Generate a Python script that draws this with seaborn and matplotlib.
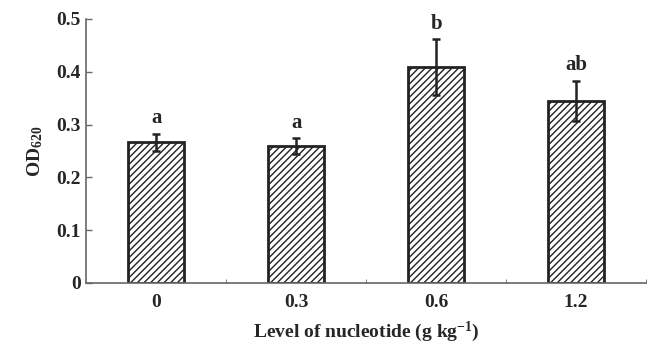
import pandas as pd
import matplotlib
matplotlib.use('Agg')
import matplotlib.pyplot as plt
import seaborn as sns
from matplotlib.ticker import FixedLocator

# Data
levels = ['0', '0.3', '0.6', '1.2']
od620 = [0.266, 0.259, 0.408, 0.345]
od_err = [0.016, 0.015, 0.053, 0.038]
groups = ['a', 'a', 'b', 'ab']

df = pd.DataFrame({'level': levels, 'od': od620})

sns.set_style('ticks')
plt.rcParams['font.family'] = ['Liberation Serif', 'DejaVu Serif']
plt.rcParams['font.weight'] = 'bold'
plt.rcParams['mathtext.fontset'] = 'custom'
plt.rcParams['mathtext.rm'] = 'Liberation Serif:bold'
plt.rcParams['mathtext.bf'] = 'Liberation Serif:bold'
plt.rcParams['mathtext.default'] = 'rm'
plt.rcParams['hatch.linewidth'] = 1.0

fig = plt.figure(figsize=(6.52, 3.43), dpi=100)
ax = fig.add_axes([0.132, 0.175, 0.859, 0.77])

sns.barplot(data=df, x='level', y='od', order=levels, color='white',
            width=0.4, edgecolor='#222222', linewidth=2, ax=ax)
for bar in ax.patches:
    bar.set_hatch('/////')

ax.errorbar(range(len(levels)), od620, yerr=od_err, fmt='none',
            ecolor='#222222', elinewidth=1.8, capsize=2.8, capthick=1.8)

# significance letters above the error bars
for i, (v, e, g) in enumerate(zip(od620, od_err, groups)):
    ax.annotate(g, (i, v + e), xytext=(0, 4), textcoords='offset points',
                ha='center', va='bottom', fontsize=15, fontweight='bold')

ax.set_xlim(-0.5, 3.5)
ax.set_ylim(0, 0.5)
ax.set_yticks([0, 0.1, 0.2, 0.3, 0.4, 0.5])
ax.set_yticklabels(['0', '0.1', '0.2', '0.3', '0.4', '0.5'])
ax.xaxis.set_minor_locator(FixedLocator([0.5, 1.5, 2.5, 3.5]))
ax.tick_params(axis='x', which='major', length=0, labelsize=14, pad=8)
ax.tick_params(axis='x', which='minor', direction='in', length=3, color='#666666')
ax.tick_params(axis='y', direction='in', length=4, color='#666666', labelsize=14,
               width=1, pad=4)

for s in ['top', 'right']:
    ax.spines[s].set_visible(False)
for s in ['left', 'bottom']:
    ax.spines[s].set_color('#666666')
    ax.spines[s].set_linewidth(1.2)

ax.set_xlabel('Level of nucleotide (g kg$^{-1}$)', fontsize=14, fontweight='bold', labelpad=6)
ax.set_ylabel('OD$_{620}$', fontsize=14, fontweight='bold', labelpad=8)

fig.savefig('out.png', dpi=100)
